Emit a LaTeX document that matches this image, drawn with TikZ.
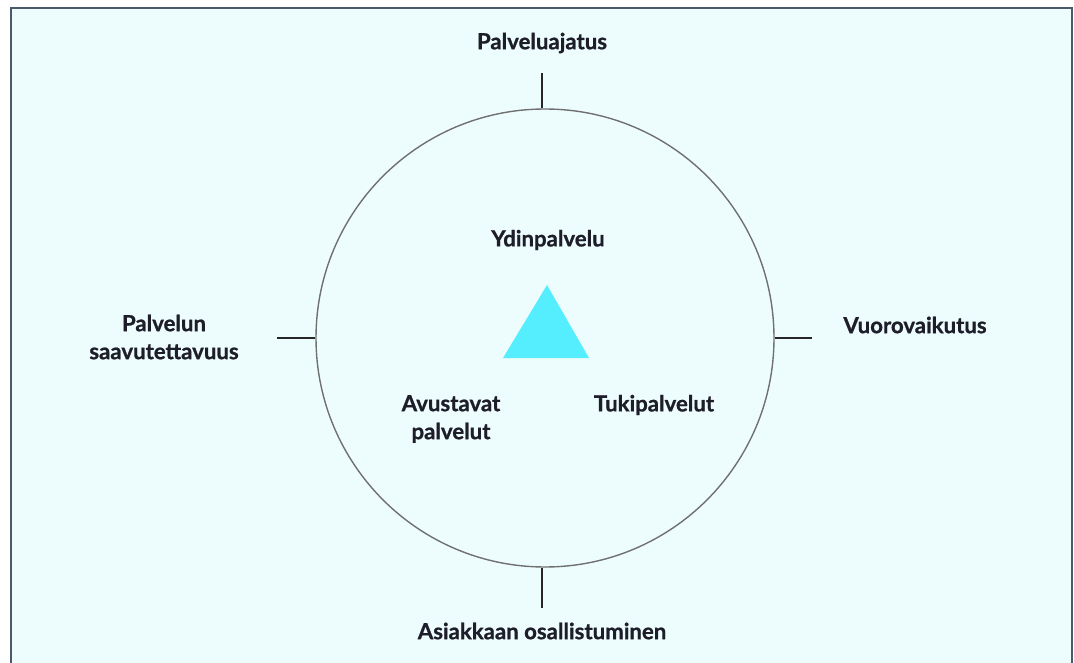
\documentclass[tikz,border=0pt]{standalone}
\usepackage{fontspec}
\setmainfont{Lato}[FakeBold=0.9]
\definecolor{bgc}{HTML}{EDFDFE}
\definecolor{framec}{HTML}{4A5A6A}
\definecolor{tric}{HTML}{55EEFF}
\definecolor{circc}{HTML}{707070}
\definecolor{txtc}{HTML}{1E1E2A}
\begin{document}
\begin{tikzpicture}[x=1pt,y=-1pt,
  lbl/.style={font=\fontsize{22.2}{28}\bfseries, text=txtc, align=center, inner sep=0pt},
  tick/.style={line width=2.6pt, draw=black!85}]
\useasboundingbox (0,0) rectangle (1074,663);
\begin{scope}
\clip (0,0) rectangle (1074,663);
\draw[fill=bgc, draw=framec, line width=2.2pt] (11,8) rectangle (1072,680);
\end{scope}
\node[circle, draw=circc, line width=1.4pt, minimum size=458pt, inner sep=0pt] (c) at (545,338) {};
\coordinate (tt) at (542,73);
\coordinate (tb) at (542,608);
\coordinate (tl) at (277,338);
\coordinate (tr) at (812,338);
\draw[tick] (c.north) ++(-3,0) -- (tt);
\draw[tick] (c.south) ++(-3,0) -- (tb);
\draw[tick] (c.west) -- (tl);
\draw[tick] (c.east) -- (tr);
\coordinate (a) at (547,285);
\coordinate (b) at (503,358);
\coordinate (d) at (589,358);
\fill[tric] (a) -- (b) -- (d) -- cycle;
\node[lbl] (n1) at (542,43) {Palveluajatus};
\node[lbl] (n2) at (548,240) {Ydinpalvelu};
\node[lbl] (n3) at (164,337) {Palvelun\\saavutettavuus};
\node[lbl] (n4) at (915,325) {Vuorovaikutus};
\node[lbl] (n5) at (451,419) {Avustavat\\palvelut};
\node[lbl] (n6) at (654,405) {Tukipalvelut};
\node[lbl] (n7) at (542,631) {Asiakkaan osallistuminen};
\end{tikzpicture}
\end{document}
